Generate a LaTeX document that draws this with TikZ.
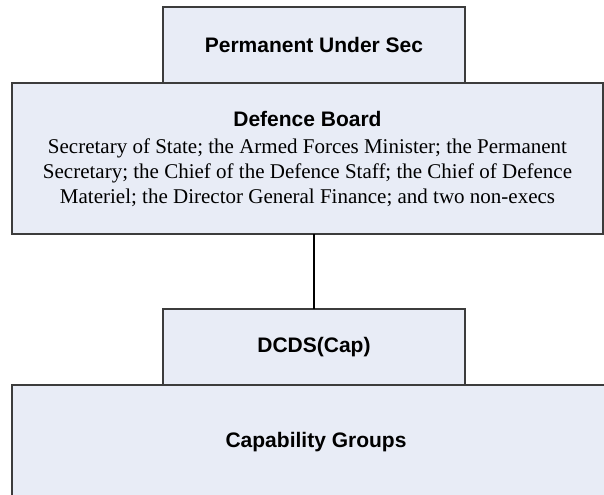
\documentclass[tikz,border=0pt]{standalone}
\usepackage{fontspec}
\setmainfont{Liberation Serif}
\setsansfont{Liberation Sans}
\definecolor{boxfill}{RGB}{232,236,246}
\definecolor{boxline}{RGB}{60,60,60}
\begin{document}
\begin{tikzpicture}[x=0.5pt,y=-0.5pt,
  orgbox/.style={draw=boxline, line width=0.7pt, fill=boxfill, inner sep=0pt, outer sep=0pt, align=center},
  headfont/.style={font=\sffamily\bfseries\fontsize{10.5}{12.5}\selectfont},
  bodyfont/.style={font=\rmfamily\fontsize{10.5}{12.5}\selectfont},
  link/.style={draw=black, line width=1.1pt}]
\useasboundingbox (0,0) rectangle (604,494);
\clip (0,0) rectangle (604,494);
\node[orgbox, headfont, minimum width=151pt, minimum height=38pt] (pus) at (314,45) {Permanent Under Sec};
\node[orgbox, bodyfont, minimum width=295.5pt, minimum height=75.5pt] (board) at (307.5,158.5)
  {{\sffamily\bfseries Defence Board}\\[1pt]
   Secretary of State; the Armed Forces Minister; the Permanent\\
   Secretary; the Chief of the Defence Staff; the Chief of Defence\\
   Materiel; the Director General Finance; and two non-execs};
\node[orgbox, headfont, minimum width=151pt, minimum height=38pt] (dcds) at (314,347) {DCDS(Cap)};
\node[orgbox, headfont, minimum width=304pt, minimum height=57pt] (cap) at (316,442) {Capability Groups};
\draw[link] (dcds.north) -- (dcds.north |- board.south);
\end{tikzpicture}
\end{document}
